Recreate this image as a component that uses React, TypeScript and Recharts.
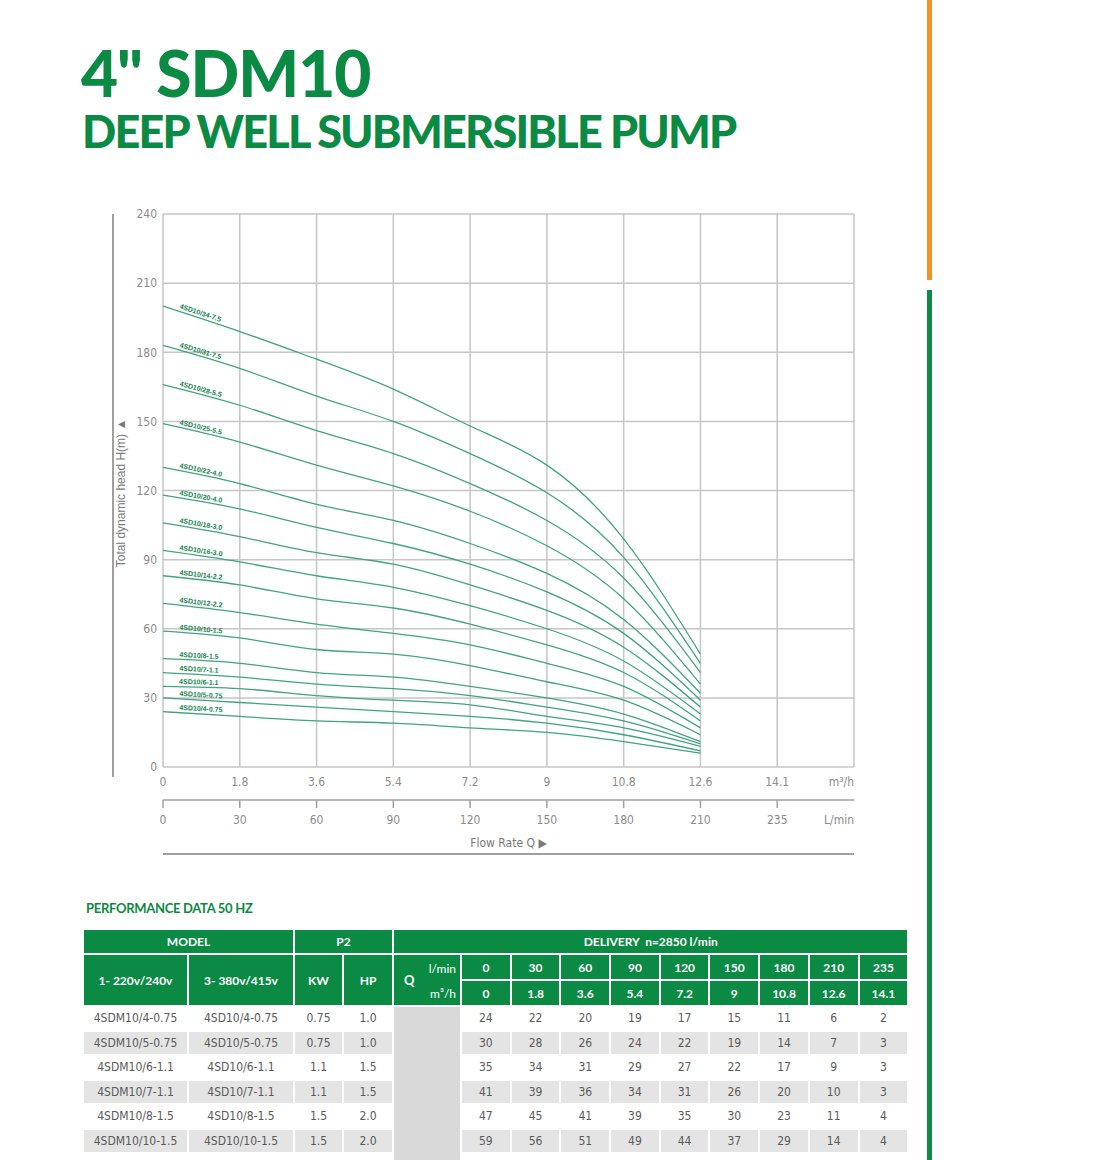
import React from 'react';
import { LineChart, Line, XAxis, YAxis, CartesianGrid } from 'recharts';

const GREEN = '#0a8a43';
const CURVE = '#3fa482';
const CURVE_TEXT = '#17854f';
const GRID = '#c6c6c6';
const TICK = '#8c8c8c';
const NARROW = "'Liberation Sans Narrow', 'DejaVu Sans Condensed', 'Liberation Sans', sans-serif";

// flow rate axis labels (index 9 = unit label at the right edge)
const flowLmin = ['0', '30', '60', '90', '120', '150', '180', '210', '235', 'L/min'];
const flowM3h = ['0', '1.8', '3.6', '5.4', '7.2', '9', '10.8', '12.6', '14.1', 'm\u00b3/h'];
const headTicks = [0, 30, 60, 90, 120, 150, 180, 210, 240];

// head (m) at 0..210 l/min for each model
const h4 = [24, 22, 20, 19, 17, 15, 11, 6];
const h5 = [30, 28, 26, 24, 22, 19, 14, 7];
const h6 = [35, 34, 31, 29, 27, 22, 17, 9];
const h7 = [41, 39, 36, 34, 31, 26, 20, 10];
const h8 = [47, 45, 41, 39, 35, 30, 23, 11];
const h10 = [59, 56, 51, 49, 44, 37, 29, 14];
const h12 = [71, 67, 62, 58, 53, 45, 35, 17];
const h14 = [83, 79, 73, 69, 62, 53, 41, 20];
const h16 = [94, 89, 83, 78, 70, 60, 46, 23];
const h18 = [106, 100, 93, 88, 79, 68, 52, 26];
const h20 = [118, 112, 104, 97, 88, 76, 58, 29];
const h22 = [130, 123, 114, 107, 97, 84, 64, 32];
const h25 = [149, 141, 131, 122, 111, 96, 73, 36];
const h28 = [166, 157, 146, 136, 123, 107, 82, 41];
const h31 = [183, 173, 161, 150, 136, 119, 91, 45];
const h34 = [200, 189, 177, 164, 148, 131, 99, 49];

// head at 235 l/min (table only)
const h235 = [2, 3, 3, 3, 4, 4, 5];

const curves = [
  { key: '34-7.5', values: h34 },
  { key: '31-7.5', values: h31 },
  { key: '28-5.5', values: h28 },
  { key: '25-5.5', values: h25 },
  { key: '22-4.0', values: h22 },
  { key: '20-4.0', values: h20 },
  { key: '18-3.0', values: h18 },
  { key: '16-3.0', values: h16 },
  { key: '14-2.2', values: h14 },
  { key: '12-2.2', values: h12 },
  { key: '10-1.5', values: h10 },
  { key: '8-1.5', values: h8 },
  { key: '7-1.1', values: h7 },
  { key: '6-1.1', values: h6 },
  { key: '5-0.75', values: h5 },
  { key: '4-0.75', values: h4 },
];

// table rows
const tableModels = ['4-0.75', '5-0.75', '6-1.1', '7-1.1', '8-1.5', '10-1.5', '12-2.2'];
const tableKw = ['0.75', '0.75', '1.1', '1.1', '1.5', '1.5', '2.2'];
const tableHp = ['1.0', '1.0', '1.5', '1.5', '2.0', '2.0', '3.0'];
const tableHeads = [h4, h5, h6, h7, h8, h10, h12];

const chartData = flowLmin.slice(0, 8).map((_, i) => {
  const row: any = { i };
  curves.forEach((c) => { row[c.key] = c.values[i]; });
  return row;
});

const PLOT_W = 691;
const PLOT_H = 553;
const COL_W = PLOT_W / 9;
const PX_PER_M = PLOT_H / 240;

const makeDot = (name: string, v0: number, v1: number) => (props: any) => {
  const { cx, cy, index } = props;
  if (index !== 0) return <g key={`d-${name}-${index}`} />;
  const angle = (Math.atan(((v0 - v1) * PX_PER_M) / COL_W) * 180) / Math.PI;
  return (
    <g key={`d-${name}-${index}`} transform={`translate(${cx},${cy}) rotate(${angle})`}>
      <text x={16} y={-3} fontSize={7} fontWeight="bold" fill={CURVE_TEXT} fontFamily="'Liberation Sans', sans-serif">
        {`4SD10/${name}`}
      </text>
    </g>
  );
};

const M3Tick = (props: any) => {
  const { x, y, payload } = props;
  const v = payload.value;
  return (
    <text x={x} y={y + 19} textAnchor={v === 9 ? 'end' : 'middle'} fontSize={12} fill={TICK} fontFamily={NARROW}>
      {flowM3h[v]}
    </text>
  );
};

const LminTick = (props: any) => {
  const { x, y, payload } = props;
  const v = payload.value;
  return (
    <g>
      {v < 9 && <line x1={x} y1={y} x2={x} y2={y + 8} stroke="#a0a0a0" strokeWidth={1.5} />}
      <text x={x} y={y + 24} textAnchor={v === 9 ? 'end' : 'middle'} fontSize={12} fill={TICK} fontFamily={NARROW}>
        {flowLmin[v]}
      </text>
    </g>
  );
};

const HeadChart = () => (
  <LineChart width={900} height={680} data={chartData} margin={{ top: 34, right: 46, left: 0, bottom: 0 }}>
    <CartesianGrid stroke={GRID} strokeWidth={1.5} />
    <XAxis
      dataKey="i"
      type="number"
      domain={[0, 9]}
      ticks={[0, 1, 2, 3, 4, 5, 6, 7, 8, 9]}
      height={33}
      axisLine={false}
      tickLine={false}
      tickSize={0}
      tickMargin={0}
      tick={<M3Tick />}
    />
    <XAxis
      xAxisId="lmin"
      dataKey="i"
      type="number"
      domain={[0, 9]}
      ticks={[0, 1, 2, 3, 4, 5, 6, 7, 8, 9]}
      height={60}
      axisLine={{ stroke: '#a0a0a0', strokeWidth: 1.5 }}
      tickLine={false}
      tickSize={0}
      tickMargin={0}
      tick={<LminTick />}
      label={{ value: 'Flow Rate Q  \u25b6', position: 'insideBottom', offset: 13, fill: '#7a7a7a', fontSize: 12, fontFamily: NARROW }}
    />
    <YAxis
      type="number"
      domain={[0, 240]}
      ticks={headTicks}
      width={163}
      axisLine={false}
      tickLine={false}
      tickSize={0}
      tickMargin={6}
      tick={{ fontSize: 12, fill: TICK, fontFamily: NARROW }}
    />
    {curves.map((c) => (
      <Line
        key={c.key}
        dataKey={c.key}
        type="natural"
        stroke={CURVE}
        strokeWidth={1.3}
        dot={makeDot(c.key, c.values[0], c.values[1])}
        activeDot={false}
        isAnimationActive={false}
      />
    ))}
  </LineChart>
);

const th: React.CSSProperties = {
  background: GREEN,
  color: '#fff',
  border: '2px solid #fff',
  fontWeight: 'bold',
  fontSize: 12,
  fontFamily: "'Lato', 'Liberation Sans', sans-serif",
  textAlign: 'center',
  padding: 0,
};

const PerfTable = () => (
  <table style={{ borderCollapse: 'collapse', width: 825, tableLayout: 'fixed' }}>
    <colgroup>
      <col style={{ width: 105 }} />
      <col style={{ width: 106 }} />
      <col style={{ width: 49 }} />
      <col style={{ width: 50 }} />
      <col style={{ width: 68 }} />
      {flowLmin.slice(0, 9).map((f) => <col key={f} style={{ width: 49.7 }} />)}
    </colgroup>
    <thead>
      <tr style={{ height: 25 }}>
        <th style={th} colSpan={2}>MODEL</th>
        <th style={th} colSpan={2}>P2</th>
        <th style={th} colSpan={10}>DELIVERY&nbsp; n=2850 l/min</th>
      </tr>
      <tr style={{ height: 26 }}>
        <th style={th} rowSpan={2}>1- 220v/240v</th>
        <th style={th} rowSpan={2}>3- 380v/415v</th>
        <th style={th} rowSpan={2}>KW</th>
        <th style={th} rowSpan={2}>HP</th>
        <th style={{ ...th, position: 'relative' }} rowSpan={2}>
          <span style={{ position: 'absolute', left: 10, top: 17, fontSize: 13 }}>Q</span>
          <span style={{ position: 'absolute', right: 4, top: 6, fontWeight: 'normal' }}>l/min</span>
          <span style={{ position: 'absolute', right: 4, top: 31, fontWeight: 'normal' }}>m&sup3;/h</span>
        </th>
        {flowLmin.slice(0, 9).map((f) => <th key={f} style={th}>{f}</th>)}
      </tr>
      <tr style={{ height: 26 }}>
        {flowM3h.slice(0, 9).map((f) => <th key={f} style={th}>{f}</th>)}
      </tr>
    </thead>
    <tbody>
      {tableModels.map((m, r) => {
        const bg = r % 2 === 0 ? '#ffffff' : '#e4e4e4';
        const td: React.CSSProperties = {
          background: bg,
          border: '2px solid #fff',
          color: '#5a5a5a',
          fontSize: 12,
          fontFamily: NARROW,
          textAlign: 'center',
          padding: 0,
          height: 22.5,
        };
        return (
          <tr key={m}>
            <td style={td}>{`4SDM10/${m}`}</td>
            <td style={td}>{`4SD10/${m}`}</td>
            <td style={td}>{tableKw[r]}</td>
            <td style={td}>{tableHp[r]}</td>
            {r === 0 && <td rowSpan={tableModels.length} style={{ background: '#d9d9d9', border: '2px solid #fff' }} />}
            {tableHeads[r].map((v, k) => <td key={k} style={td}>{v}</td>)}
            <td style={td}>{h235[r]}</td>
          </tr>
        );
      })}
    </tbody>
  </table>
);

export default function App() {
  return (
    <div style={{ position: 'absolute', left: 0, top: 0, width: 1100, height: 1160, overflow: 'hidden', background: '#fff' }}>
      <div style={{ position: 'absolute', left: 81, top: 41, fontSize: 64, lineHeight: 1, fontWeight: 900, color: GREEN, fontFamily: "'Lato', 'Liberation Sans', sans-serif", letterSpacing: -1, whiteSpace: 'nowrap' }}>
        4" SDM10
      </div>
      <div style={{ position: 'absolute', left: 82, top: 109, fontSize: 45, lineHeight: 1, fontWeight: 900, color: GREEN, fontFamily: "'Lato', 'Liberation Sans', sans-serif", letterSpacing: -1.8, whiteSpace: 'nowrap' }}>
        DEEP WELL SUBMERSIBLE PUMP
      </div>

      {/* side stripes */}
      <div style={{ position: 'absolute', left: 927, top: 0, width: 5, height: 280, background: '#f39226' }} />
      <div style={{ position: 'absolute', left: 927, top: 290, width: 5, height: 870, background: '#0e8a46' }} />

      {/* y axis title and its rule */}
      <div style={{ position: 'absolute', left: 112, top: 214, width: 1.5, height: 563, background: '#a0a0a0' }} />
      <div style={{ position: 'absolute', left: 121, top: 493, width: 0, height: 0 }}>
        <div style={{ position: 'absolute', transform: 'translate(-50%, -50%) rotate(-90deg)', whiteSpace: 'nowrap', fontSize: 12, color: '#7a7a7a', fontFamily: "'Liberation Sans', sans-serif" }}>
          Total dynamic head H(m) &#9650;
        </div>
      </div>

      <div style={{ position: 'absolute', left: 0, top: 180 }}>
        <HeadChart />
      </div>
      <div style={{ position: 'absolute', left: 163, top: 853, width: 691, height: 1.5, background: '#a0a0a0' }} />

      <div style={{ position: 'absolute', left: 86, top: 902, fontSize: 13, lineHeight: 1, fontWeight: 'bold', color: GREEN, fontFamily: "'Lato', 'Liberation Sans', sans-serif", letterSpacing: -0.3 }}>
        PERFORMANCE DATA 50 HZ
      </div>
      <div style={{ position: 'absolute', left: 82, top: 928 }}>
        <PerfTable />
      </div>
    </div>
  );
}
